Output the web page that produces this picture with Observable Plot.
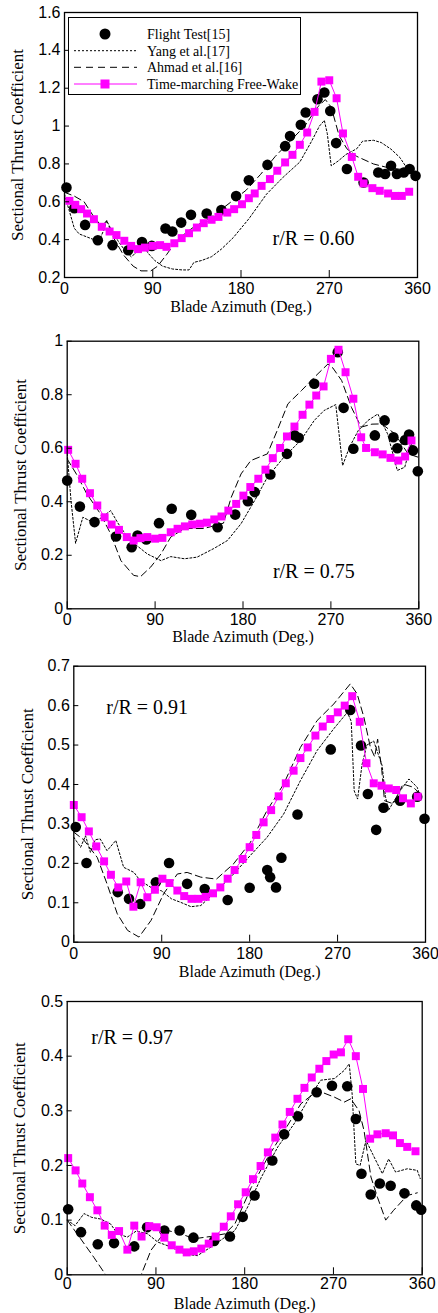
<!DOCTYPE html>
<html>
<head>
<meta charset="utf-8">
<script src="https://cdn.jsdelivr.net/npm/d3@7"></script>
<script src="https://cdn.jsdelivr.net/npm/@observablehq/plot@0.6"></script>
<style>
  body { margin: 0; background: #fff; }
  #wrap { position: relative; width: 438px; height: 1313px; background: #fff; }
  .panel { position: absolute; left: 0; }
  #legend { position: absolute; left: 68px; top: 17px; width: 233px; height: 78px; border: 1.2px solid #000; background: #fff; box-sizing: border-box; }
</style>
</head>
<body>
<div id="wrap"></div>
<script>
// ---------- axis ticks ----------
const xTicks = [0, 90, 180, 270, 360];
const xTickLabels = ["0", "90", "180", "270", "360"];
const yTicks60 = [0.2, 0.4, 0.6, 0.8, 1.0, 1.2, 1.4, 1.6];
const yTickLabels60 = ["0.2", "0.4", "0.6", "0.8", "1", "1.2", "1.4", "1.6"];
const yTicks75 = [0, 0.2, 0.4, 0.6, 0.8, 1.0];
const yTickLabels75 = ["0", "0.2", "0.4", "0.6", "0.8", "1"];
const yTicks91 = [0, 0.1, 0.2, 0.3, 0.4, 0.5, 0.6, 0.7];
const yTickLabels91 = ["0", "0.1", "0.2", "0.3", "0.4", "0.5", "0.6", "0.7"];
const yTicks97 = [0, 0.1, 0.2, 0.3, 0.4, 0.5];
const yTickLabels97 = ["0", "0.1", "0.2", "0.3", "0.4", "0.5"];

const seriesNames = ["Flight Test[15]", "Yang et al.[17]", "Ahmad et al.[16]", "Time-marching Free-Wake"];
const xTitle = "Blade Azimuth (Deg.)";
const yTitle = "Sectional Thrust Coefficient";
const panelLabels = ["r/R = 0.60", "r/R = 0.75", "r/R = 0.91", "r/R = 0.97"];

// ---------- r/R = 0.60 ----------
const test60 = [[2,0.675],[10,0.566],[21,0.478],[34,0.397],[49,0.371],[65,0.344],[79,0.387],[89,0.367],[103,0.459],[110,0.443],[119,0.49],[129,0.531],[145,0.538],[160,0.556],[175,0.63],[188,0.714],[207,0.795],[225,0.894],[230,0.947],[241,1.007],[246,1.072],[258,1.142],[265,1.177],[271,1.08],[277,0.91],[288,0.773],[305,0.702],[320,0.755],[327,0.747],[333,0.79],[339,0.747],[346,0.755],[352,0.773],[358,0.737]];
const yang60 = [[0,0.64],[5,0.55],[10,0.46],[15,0.43],[25,0.41],[35,0.39],[40,0.45],[43,0.5],[47,0.46],[55,0.39],[62,0.34],[68,0.31],[73,0.33],[80,0.38],[85,0.33],[92,0.29],[100,0.26],[110,0.245],[120,0.24],[127,0.24],[132,0.28],[140,0.29],[150,0.31],[160,0.35],[172,0.41],[188,0.51],[206,0.64],[223,0.73],[240,0.81],[252,0.92],[260,1.0],[265,1.03],[268,0.96],[272,0.79],[279,0.815],[287,0.85],[298,0.88],[304,0.92],[315,0.925],[323,0.913],[333,0.878],[342,0.834],[350,0.772],[358,0.746]];
const ahmad60 = [[0,0.65],[10,0.63],[20,0.6],[30,0.52],[38,0.47],[43,0.5],[50,0.41],[60,0.32],[70,0.26],[78,0.235],[88,0.235],[95,0.26],[104,0.32],[115,0.4],[130,0.46],[150,0.52],[170,0.6],[185,0.66],[200,0.745],[215,0.84],[230,0.92],[245,1.0],[258,1.1],[266,1.14],[272,1.1],[280,0.95],[288,0.88],[298,0.84],[315,0.8],[330,0.78],[345,0.77],[358,0.76]];
const fw60 = [[5,0.605],[11,0.584],[17,0.561],[23,0.538],[30,0.508],[38,0.468],[46,0.443],[53,0.424],[61,0.394],[68,0.367],[75,0.35],[82,0.358],[90,0.367],[97.5,0.371],[104,0.362],[112,0.381],[119.5,0.408],[127,0.434],[135,0.464],[142,0.487],[150,0.505],[157,0.52],[166,0.543],[173,0.561],[181,0.587],[188,0.619],[194,0.644],[201,0.684],[209.5,0.72],[217,0.764],[225,0.808],[232.5,0.848],[240,0.901],[247.5,0.966],[255,1.075],[262,1.235],[270,1.242],[277.5,1.147],[284,0.961],[293,0.837],[299.5,0.732],[305,0.697],[314,0.672],[321.5,0.658],[330,0.644],[337,0.631],[344,0.631],[351.5,0.653]];

// ---------- r/R = 0.75 ----------
const test75 = [[0,0.479],[13,0.382],[28,0.324],[50,0.27],[66,0.23],[72,0.274],[81,0.259],[94,0.32],[107,0.374],[127,0.351],[154,0.305],[172,0.352],[185,0.402],[192,0.436],[208,0.502],[225,0.579],[233,0.648],[237,0.639],[253,0.841],[277,0.959],[283,0.751],[293,0.598],[315,0.648],[325,0.704],[334,0.641],[338,0.6],[346,0.631],[350,0.651],[354,0.592],[359,0.514]];
const yang75 = [[0,0.58],[4,0.4],[8.6,0.245],[16,0.342],[26,0.324],[35,0.34],[44.5,0.367],[52,0.32],[61.6,0.268],[70,0.24],[82,0.205],[96,0.18],[106,0.195],[120,0.187],[133,0.193],[150,0.225],[164,0.255],[178,0.318],[192,0.405],[205,0.492],[222,0.567],[239,0.629],[253,0.704],[263,0.741],[275,0.763],[282,0.535],[289,0.604],[298,0.666],[308,0.704],[318,0.728],[328,0.654],[338,0.517],[345.6,0.529],[352,0.616],[358,0.579]];
const ahmad75 = [[0,0.56],[10,0.5],[20,0.43],[34,0.355],[44.5,0.28],[55,0.18],[68,0.125],[75,0.12],[85.5,0.156],[96,0.205],[106,0.268],[120,0.3],[140,0.3],[160,0.32],[168,0.417],[178,0.504],[188,0.554],[205,0.579],[215,0.666],[226,0.766],[240,0.816],[253,0.865],[267,0.915],[272,0.9],[281,0.853],[291,0.753],[301,0.679],[312,0.69],[322,0.691],[335.5,0.654],[349,0.579],[359,0.567]];
const fw75 = [[1,0.594],[8.6,0.542],[15.4,0.486],[23.3,0.432],[30.8,0.386],[38.3,0.342],[45.5,0.315],[53,0.295],[61,0.268],[68,0.255],[75,0.264],[82,0.268],[90,0.262],[97.5,0.265],[106,0.286],[113,0.299],[120.5,0.308],[128,0.315],[136,0.318],[143,0.322],[150.6,0.334],[158,0.345],[165,0.367],[173,0.392],[180.4,0.423],[187.5,0.455],[195.7,0.486],[203,0.52],[210.5,0.563],[218,0.601],[225,0.644],[232.7,0.681],[241,0.725],[248,0.763],[255,0.797],[262.5,0.831],[270,0.934],[277.8,0.968],[285,0.884],[293,0.785],[301,0.641],[306,0.601],[315,0.585],[323,0.577],[331,0.564],[339,0.554],[346,0.569],[352.5,0.629]];

// ---------- r/R = 0.91 ----------
const test91 = [[2,0.292],[13,0.201],[45,0.127],[56.5,0.11],[68,0.097],[84,0.152],[97.5,0.201],[116,0.148],[134,0.135],[157.5,0.107],[180,0.138],[198,0.183],[201,0.165],[207,0.139],[212.5,0.214],[229,0.324],[263,0.489],[283,0.589],[294,0.499],[301,0.376],[309.5,0.285],[317,0.341],[334,0.359],[351.5,0.369],[359,0.313]];
const yang91 = [[0,0.266],[7,0.241],[12,0.27],[17,0.228],[22,0.26],[27,0.262],[34,0.232],[43,0.258],[51,0.19],[61.6,0.177],[68,0.156],[79,0.139],[90,0.13],[100,0.11],[109.5,0.101],[120,0.09],[130,0.093],[146.5,0.131],[163.6,0.173],[180.7,0.22],[197.8,0.266],[214.8,0.325],[232,0.41],[249,0.486],[266,0.541],[280,0.583],[284,0.56],[287,0.384],[290.5,0.363],[295,0.45],[300,0.5],[307,0.51],[315.6,0.448],[319,0.37],[322,0.334],[334,0.384],[343,0.414],[351.5,0.393],[355,0.367]];
const ahmad91 = [[0,0.279],[10,0.26],[24,0.215],[34,0.148],[44.5,0.072],[55,0.03],[66.7,0.013],[79,0.055],[92,0.123],[106,0.173],[116,0.177],[130,0.165],[146,0.16],[163.6,0.199],[180.7,0.253],[197.8,0.334],[214.8,0.401],[232,0.494],[249,0.562],[266,0.604],[283,0.655],[290,0.63],[297,0.57],[303.6,0.494],[308,0.47],[311,0.515],[315,0.444],[318,0.359],[327,0.351],[337,0.401],[347.6,0.393],[354.4,0.376]];
const fw91 = [[0,0.348],[8,0.317],[15.4,0.281],[23,0.243],[31,0.205],[38,0.171],[45.5,0.139],[53.7,0.154],[61,0.09],[68.4,0.152],[75.3,0.114],[83,0.133],[90.7,0.161],[98,0.15],[106,0.131],[113,0.117],[120.5,0.11],[127.6,0.11],[135,0.115],[142.5,0.124],[150,0.139],[157.5,0.161],[164.6,0.183],[172.8,0.211],[180,0.241],[186.8,0.272],[194.3,0.304],[202,0.335],[209.7,0.37],[217,0.403],[225,0.435],[232,0.467],[239.4,0.494],[247.3,0.524],[254.8,0.547],[262.6,0.566],[270.2,0.583],[277.3,0.6],[285,0.624],[292.7,0.559],[299.6,0.454],[307,0.403],[315,0.397],[322.4,0.39],[330,0.386],[337,0.365],[345,0.352],[352,0.369]];

// ---------- r/R = 0.97 ----------
const test97 = [[1,0.12],[14,0.078],[31,0.056],[47.5,0.058],[68,0.052],[81,0.087],[98.5,0.081],[114,0.081],[128,0.068],[149,0.062],[165,0.07],[178,0.106],[190,0.145],[208,0.209],[220,0.257],[234,0.29],[253,0.334],[268.5,0.346],[284,0.345],[292.7,0.285],[298.4,0.185],[307.8,0.147],[317,0.167],[328,0.163],[342,0.149],[354,0.127],[359,0.119]];
const yang97 = [[0,0.1],[8,0.09],[17,0.112],[25,0.105],[34,0.102],[44,0.093],[51,0.075],[61,0.069],[70,0.08],[81.5,0.075],[91.7,0.06],[105,0.051],[119,0.038],[132,0.035],[146,0.051],[153,0.06],[170,0.081],[183,0.124],[197,0.179],[213.6,0.234],[230,0.276],[244,0.319],[257,0.356],[271,0.359],[281,0.374],[286,0.386],[289,0.33],[292.7,0.203],[297,0.2],[303,0.246],[310,0.22],[319.6,0.185],[326,0.212],[333,0.188],[345,0.194],[355,0.191],[358,0.176]];
const ahmad97 = [[0,0.1],[13.6,0.066],[27,0.032],[39,0.0],[45,-0.02],[70,-0.02],[75,0.0],[85,0.045],[95,0.069],[102,0.081],[115,0.075],[129,0.066],[145,0.07],[160,0.075],[170,0.093],[186.7,0.16],[203.5,0.215],[220.4,0.264],[237,0.313],[254,0.337],[271,0.325],[281,0.316],[287.6,0.322],[296,0.3],[301,0.264],[308,0.179],[314.6,0.142],[323,0.1],[331,0.118],[344.8,0.145],[355,0.15]];
const fw97 = [[1,0.2135],[8.5,0.191],[15.3,0.167],[23,0.142],[30.6,0.118],[38,0.09],[45.2,0.073],[52.6,0.08],[61,0.046],[68,0.09],[75.4,0.07],[83.2,0.089],[90.7,0.087],[98.5,0.068],[106,0.054],[113.8,0.046],[121.2,0.041],[128.4,0.043],[136,0.048],[143.5,0.057],[150.5,0.07],[158.8,0.088],[165.9,0.107],[173.3,0.129],[181,0.151],[188.4,0.175],[196.1,0.199],[203.5,0.224],[211,0.251],[218.3,0.275],[225.7,0.298],[233.5,0.322],[240.6,0.342],[248,0.361],[255.7,0.377],[262.8,0.391],[270.2,0.403],[277.6,0.407],[285,0.431],[292.7,0.4],[300,0.34],[307.2,0.249],[314.6,0.257],[323,0.259],[330.4,0.255],[337.4,0.241],[344.8,0.234],[353.2,0.226]];

// ---------- drawing ----------
const SERIF = "Liberation Serif, Times New Roman, serif";
const SANS = "Liberation Sans, Arial, sans-serif";
const MAGENTA = "#ff00ff";
const X = d => d[0], Y = d => d[1];

const panels = [
  {top: 0,   height: 320, ml: 64,   mr: 21,   mt: 12,   mb: 43,   yDomain: [0.2, 1.6], yTicks: yTicks60, yLabels: yTickLabels60,
   test: test60, yang: yang60, ahmad: ahmad60, fw: fw60, label: panelLabels[0], la: "bottom-right", ldx: -104, ldy: -39, xtp: 5, xdy: 29.6, ydx: -46.5},
  {top: 320, height: 320, ml: 66.7, mr: 19.7, mt: 20.7, mb: 31.7, yDomain: [0, 1], yTicks: yTicks75, yLabels: yTickLabels75,
   test: test75, yang: yang75, ahmad: ahmad75, fw: fw75, label: panelLabels[1], la: "bottom-right", ldx: -105, ldy: -37.6, xtp: 5.3, xdy: 28.3, ydx: -47},
  {top: 640, height: 335, ml: 73.3, mr: 13,   mt: 25.7, mb: 33.3, yDomain: [0, 0.7], yTicks: yTicks91, yLabels: yTickLabels91,
   test: test91, yang: yang91, ahmad: ahmad91, fw: fw91, label: panelLabels[2], la: "top-left", ldx: 73.4, ldy: 41, xtp: 5.2, xdy: 30, ydx: -46.6},
  {top: 975, height: 338, ml: 66.7, mr: 16.3, mt: 26,   mb: 38.7, yDomain: [0, 0.5], yTicks: yTicks97, yLabels: yTickLabels97,
   test: test97, yang: yang97, ahmad: ahmad97, fw: fw97, label: panelLabels[3], la: "top-left", ldx: 65, ldy: 35.7, xtp: 2.6, xdy: 28.9, ydx: -48}
];

const wrap = document.getElementById("wrap");
for (const p of panels) {
  const chart = Plot.plot({
    width: 438,
    height: p.height,
    marginLeft: p.ml, marginRight: p.mr, marginTop: p.mt, marginBottom: p.mb,
    style: {fontFamily: SANS, fontSize: "16px", background: "none", overflow: "visible", color: "black"},
    x: {domain: [0, 360], label: null},
    y: {domain: p.yDomain, label: null},
    marks: [
      Plot.line(p.yang, {x: X, y: Y, stroke: "black", strokeWidth: 1, strokeDasharray: "2,2", clip: true}),
      Plot.line(p.ahmad, {x: X, y: Y, stroke: "black", strokeWidth: 1, strokeDasharray: "7,4", clip: true}),
      Plot.dot(p.test, {x: X, y: Y, r: 5.3, fill: "black"}),
      Plot.line(p.fw, {x: X, y: Y, stroke: MAGENTA, strokeWidth: 1}),
      Plot.dot(p.fw, {x: X, y: Y, symbol: "square", r: 4.5, fill: MAGENTA}),
      Plot.frame({stroke: "black", strokeWidth: 1.3}),
      // inward tick marks
      Plot.axisX({anchor: "bottom", ticks: xTicks, tickSize: -7, tickFormat: () => "", label: null}),
      Plot.axisY({anchor: "left", ticks: p.yTicks, tickSize: -5, tickFormat: () => "", label: null}),
      // tick labels
      Plot.axisX({anchor: "bottom", ticks: xTicks, tickSize: 0, tickPadding: p.xtp,
                  tickFormat: d => xTickLabels[xTicks.indexOf(d)], fontSize: 16, label: null}),
      Plot.axisY({anchor: "left", ticks: p.yTicks, tickSize: 0, tickPadding: 4,
                  tickFormat: d => p.yLabels[p.yTicks.indexOf(d)], fontSize: 16, label: null}),
      // titles
      Plot.text([xTitle], {frameAnchor: "bottom", dy: p.xdy, text: d => d, textAnchor: "middle", lineAnchor: "middle",
                           fontFamily: SERIF, fontSize: 16, fill: "black"}),
      Plot.text([yTitle], {frameAnchor: "left", dx: p.ydx, rotate: -90, text: d => d, textAnchor: "middle", lineAnchor: "middle",
                           fontFamily: SERIF, fontSize: 17, fill: "black"}),
      Plot.text([p.label], {frameAnchor: p.la, dx: p.ldx, dy: p.ldy, text: d => d, textAnchor: "middle", lineAnchor: "middle",
                            fontFamily: SERIF, fontSize: 20, fill: "black"})
    ]
  });
  const holder = document.createElement("div");
  holder.className = "panel";
  holder.style.top = p.top + "px";
  holder.appendChild(chart);
  wrap.appendChild(holder);
}

// ---------- legend (inside first panel) ----------
const legend = document.createElement("div");
legend.id = "legend";
const rowsY = [17, 33.7, 50.3, 67];
let svg = `<svg width="231" height="76" style="position:absolute;left:0;top:-1px;overflow:visible">`;
svg += `<circle cx="36" cy="${rowsY[0]}" r="5.5" fill="black"/>`;
svg += `<line x1="5" x2="68" y1="${rowsY[1]}" y2="${rowsY[1]}" stroke="black" stroke-width="1" stroke-dasharray="2,2"/>`;
svg += `<line x1="5" x2="68" y1="${rowsY[2]}" y2="${rowsY[2]}" stroke="black" stroke-width="1" stroke-dasharray="7,5"/>`;
svg += `<line x1="5" x2="68" y1="${rowsY[3]}" y2="${rowsY[3]}" stroke="${MAGENTA}" stroke-width="1"/>`;
svg += `<rect x="31.5" y="${rowsY[3] - 4.5}" width="9" height="9" fill="${MAGENTA}"/>`;
seriesNames.forEach((name, i) => {
  svg += `<text x="78" y="${rowsY[i]}" dy="0.35em" font-family="${SERIF}" font-size="14" fill="black">${name}</text>`;
});
svg += `</svg>`;
legend.innerHTML = svg;
wrap.appendChild(legend);
</script>
</body>
</html>
